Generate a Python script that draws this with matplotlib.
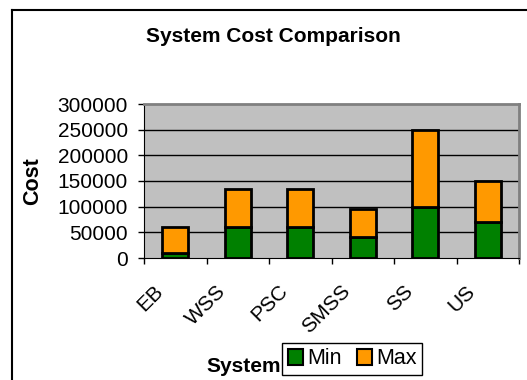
import matplotlib
matplotlib.use('Agg')
import matplotlib.pyplot as plt
import matplotlib.transforms as mtransforms
import numpy as np
from matplotlib.patches import Patch
from matplotlib.lines import Line2D

plt.rcParams['font.family'] = ['Liberation Sans', 'DejaVu Sans']

systems = ['EB', 'WSS', 'PSC', 'SMSS', 'SS', 'US']
cost_min = [10000, 60000, 60000, 40000, 100000, 70000]
cost_max = [50000, 75000, 75000, 55000, 150000, 80000]   # stacked on top of min
yticks = [0, 50000, 100000, 150000, 200000, 250000, 300000]

W, H = 527, 380
fig = plt.figure(figsize=(W/100, H/100), dpi=100)
ax = fig.add_axes([144/W, 1-258/H, 375/W, 154/H])
ax.set_facecolor('#C0C0C0')

x = np.arange(len(systems))
ax.bar(x, cost_min, width=0.42, color='#008000', edgecolor='black', linewidth=2, zorder=3)
ax.bar(x, cost_max, width=0.42, bottom=cost_min, color='#FF9900', edgecolor='black', linewidth=2, zorder=3)

ax.set_xlim(-0.5, len(systems)-0.5)
ax.set_ylim(0, 300000)
ax.set_yticks(yticks)
ax.set_yticklabels([str(v) for v in yticks], fontsize=15)
for v in yticks[1:-1]:
    ax.axhline(v, color='black', lw=1, zorder=1)

ax.set_xticks(x)
ax.set_xticklabels(systems, fontsize=15, rotation=45, ha='right', va='top', rotation_mode='anchor')
ax.tick_params(axis='x', which='major', length=0, pad=14)
ax.set_xticks(np.arange(-0.5, len(systems), 1), minor=True)
ax.tick_params(axis='x', which='minor', length=4.5, width=1, direction='out')
ax.tick_params(axis='y', length=4.5, width=1, pad=7)

# move the slanted labels left so they end just short of the category centre
shift = mtransforms.ScaledTranslation(-22/100, -4/100, fig.dpi_scale_trans)
for lab in ax.get_xticklabels():
    lab.set_transform(lab.get_transform() + shift)

ax.spines['left'].set_color('black')
ax.spines['bottom'].set_color('black')
ax.spines['top'].set_color('#808080')
ax.spines['right'].set_color('#808080')
ax.spines['top'].set_linewidth(2)
ax.spines['right'].set_linewidth(2)

fig.text(273/W, 1-36/H, 'System Cost Comparison', ha='center', va='center', fontsize=15, fontweight='bold')
fig.text(33/W, 1-181/H, 'Cost', ha='center', va='center', rotation=90, fontsize=15.5, fontweight='bold')
fig.text(244/W, 1-367/H, 'System', ha='center', va='center', fontsize=15, fontweight='bold')

handles = [Patch(facecolor='#008000', edgecolor='black', linewidth=1.5),
           Patch(facecolor='#FF9900', edgecolor='black', linewidth=1.5)]
leg = fig.legend(handles, ['Min', 'Max'], loc='center', bbox_to_anchor=(352/W, 1-359/H), ncol=2,
                 fontsize=15.5, frameon=True, fancybox=False, edgecolor='black', framealpha=1,
                 handlelength=0.7, handleheight=0.7, handletextpad=0.2, columnspacing=0.7,
                 borderpad=0.25, borderaxespad=0)
leg.get_frame().set_linewidth(1)

# chart-area frame (left and top edges visible)
fig.add_artist(Line2D([12/W, 12/W], [0, 1-10/H], color='black', lw=1.5))
fig.add_artist(Line2D([12/W, 1], [1-10/H, 1-10/H], color='black', lw=1.5))

fig.savefig('out.png', dpi=100)
